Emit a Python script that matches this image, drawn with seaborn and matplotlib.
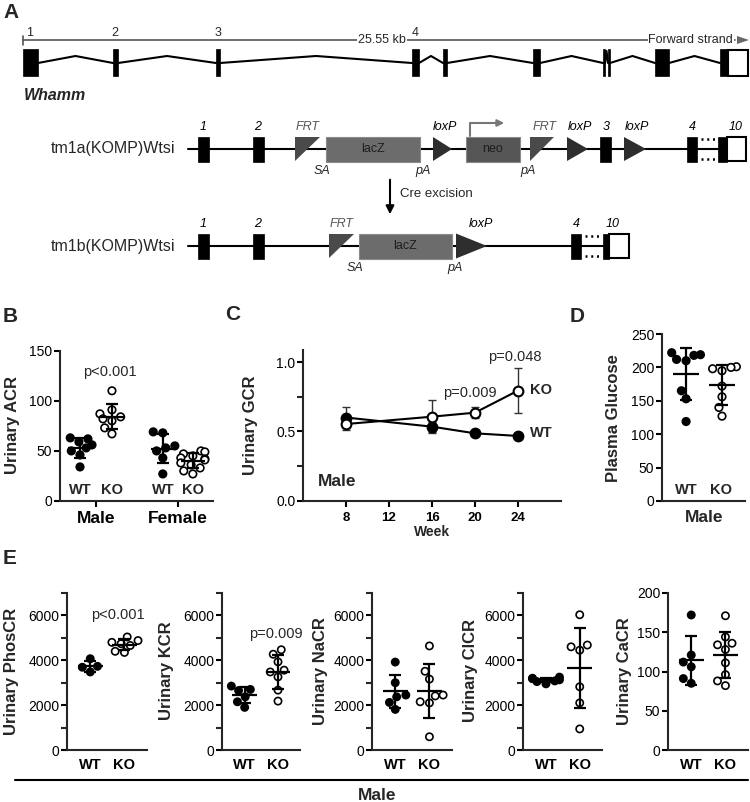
import numpy as np
import pandas as pd
import matplotlib
matplotlib.use("Agg")
import matplotlib.pyplot as plt
import seaborn as sns
from matplotlib.patches import Rectangle, Polygon

# ---------------- data ----------------
# Panel B: urinary ACR
acr_male_wt = [63, 62, 59, 56, 53, 50, 46, 34]
acr_male_ko = [110, 91, 87, 84, 82, 80, 73, 67]
acr_female_wt = [69, 68, 55, 53, 50, 43, 27]
acr_female_ko = [50, 49, 47, 45, 43, 42, 41, 38, 36, 33, 30, 27]
# Panel C: urinary GCR over time
weeks = [8, 16, 20, 24]
gcr_wt_mean = [0.600, 0.534, 0.486, 0.467]
gcr_wt_err = [0.078, 0.035, 0.015, 0.020]
gcr_ko_mean = [0.553, 0.606, 0.635, 0.794]
gcr_ko_err = [0.040, 0.120, 0.040, 0.165]
week_ticks = [8, 12, 16, 20, 24]
# Panel D: plasma glucose
glucose_wt = [222, 219, 218, 212, 210, 165, 153, 119]
glucose_ko = [201, 200, 198, 195, 172, 156, 140, 127]
# Panel E
phos_wt = [4070, 3730, 3690, 3480]
phos_ko = [5040, 4880, 4800, 4740, 4660, 4400, 4350]
k_wt = [2850, 2700, 2650, 2370, 2150, 1900]
k_ko = [4470, 4270, 3930, 3560, 3480, 3260, 2670, 2180]
na_wt = [3920, 3000, 2450, 2370, 2120, 1810]
na_ko = [4640, 3510, 3160, 2450, 2410, 2150, 2100, 590]
cl_wt = [3250, 3200, 3180, 3130, 3080, 3050, 2950]
cl_ko = [6030, 4680, 4600, 4450, 2820, 2100, 940]
ca_wt = [172, 121, 112, 106, 91, 85]
ca_ko = [171, 144, 136, 134, 128, 111, 96, 88, 82]
genotypes = ["WT", "KO"]

# ---------------- setup ----------------
sns.set_theme(style="ticks")
plt.rcParams["font.family"] = ["Liberation Sans", "DejaVu Sans"]
plt.rcParams["axes.linewidth"] = 1.5

W, H = 750, 802
fig = plt.figure(figsize=(7.5, 8.02), dpi=100)
fig.patch.set_facecolor("white")

ov = fig.add_axes([0, 0, 1, 1])
ov.set_xlim(0, W)
ov.set_ylim(H, 0)
ov.axis("off")
ov.patch.set_visible(False)


def px_axes(x0, y0, x1, y1):
    return fig.add_axes([x0 / W, 1 - y1 / H, (x1 - x0) / W, (y1 - y0) / H])


def T(x, y, s, **kw):
    kw.setdefault("ha", "center")
    kw.setdefault("va", "center")
    ov.text(x, y, s, **kw)


# ---------------- Panel A ----------------
T(3, 12, "A", fontsize=15, fontweight="bold", ha="left")
ov.plot([23, 735], [40, 40], color="#555555", lw=1.2)
ov.plot([23, 23], [36, 45], color="#555555", lw=1.2)
ov.add_patch(Polygon([(737, 36), (749, 40), (737, 44)], closed=True, fc="#666666", ec="none"))
for xx, lab in [(30, "1"), (115, "2"), (218, "3"), (415, "4")]:
    T(xx, 33, lab, fontsize=9)
T(382, 40, "25.55 kb", fontsize=9, bbox=dict(fc="white", ec="none", pad=0.5))
T(733, 40, "Forward strand", fontsize=9, ha="right", bbox=dict(fc="white", ec="none", pad=0.5))
gene_exons = [(23, 38), (113, 118), (216, 220), (412, 419), (443, 447), (533, 540),
              (603, 605), (608, 610), (655, 669), (720, 728)]
for i in range(len(gene_exons) - 1):
    a = gene_exons[i][1]
    b = gene_exons[i + 1][0]
    pk = 56 if b - a > 6 else 51
    ov.plot([a, (a + b) / 2, b], [63, pk, 63], color="black", lw=1.5)
for x0, x1 in gene_exons:
    ov.add_patch(Rectangle((x0, 49), x1 - x0, 27, fc="black", ec="black", lw=0.5))
ov.add_patch(Rectangle((728, 49.5), 20, 26, fc="white", ec="black", lw=1.5))
T(24, 95, "Whamm", fontsize=11.5, fontweight="bold", fontstyle="italic", ha="left")


def exon(x0, x1, yc, h=25):
    ov.add_patch(Rectangle((x0, yc - h / 2), x1 - x0, h, fc="black", ec="black", lw=0.5, zorder=3))


def frt(x0, x1, yc, h=24):
    ov.add_patch(Polygon([(x0, yc - h / 2), (x1, yc - h / 2), (x0, yc + h / 2)], closed=True,
                         fc="#4a4a4a", ec="none", zorder=3))


def loxp(x0, x1, yc, h=24):
    ov.add_patch(Polygon([(x0, yc - h / 2), (x1, yc), (x0, yc + h / 2)], closed=True,
                         fc="#2e2e2e", ec="none", zorder=3))


def box(x0, x1, yc, fc, label, h=25):
    ov.add_patch(Rectangle((x0, yc - h / 2), x1 - x0, h, fc=fc, ec="#8a8a8a", lw=0.8, zorder=3))
    T((x0 + x1) / 2, yc, label, fontsize=9, color="#1e1e1e", zorder=4)


def last_exon(x0, x1, x2, yc, h=25):
    ov.add_patch(Rectangle((x0, yc - h / 2), x1 - x0, h, fc="black", ec="black", lw=0.5, zorder=3))
    ov.add_patch(Rectangle((x1, yc - h / 2 + 0.7), x2 - x1, h - 1.4, fc="white", ec="black", lw=1.5, zorder=3))


def dots(x0, x1, yc):
    for yy in (yc - 10, yc + 10):
        ov.plot([x0 + 3, x1 - 2], [yy, yy], color="black", lw=1.8, ls=(0, (0.8, 1.5)))


lab_kw = dict(fontsize=9, fontstyle="italic")
# tm1a
y1 = 149
T(175, y1, "tm1a(KOMP)Wtsi", fontsize=11.5, ha="right")
ov.plot([188, 718], [y1, y1], color="black", lw=1.5, zorder=2)
exon(198, 209, y1)
exon(253, 264, y1)
frt(295, 320, y1)
box(326, 420, y1, "#6c6c6c", "lacZ")
loxp(433, 452, y1)
box(466, 520, y1, "#565656", "neo")
frt(530, 554, y1)
loxp(567, 588, y1)
exon(600, 611, y1)
loxp(624, 646, y1)
exon(687, 697, y1)
dots(698, 718, y1)
last_exon(718, 727, 746, y1)
for xx, lab, col in [(203, "1", "black"), (258, "2", "black"), (308, "FRT", "#555555"),
                     (445, "loxP", "black"), (545, "FRT", "#555555"), (580, "loxP", "black"),
                     (606, "3", "black"), (637, "loxP", "black"), (692, "4", "black"),
                     (736, "10", "black")]:
    T(xx, 127, lab, color=col, **lab_kw)
for xx, lab in [(322, "SA"), (423, "pA"), (528, "pA")]:
    T(xx, 171, lab, **lab_kw)
ov.plot([470, 470, 498], [136, 123, 123], color="#777777", lw=1.5)
ov.annotate("", xy=(507, 123), xytext=(496, 123),
            arrowprops=dict(arrowstyle="-|>", color="#777777", lw=1.5, mutation_scale=10))
ov.annotate("", xy=(390, 217), xytext=(390, 177),
            arrowprops=dict(arrowstyle="-|>", color="black", lw=1.5, mutation_scale=12))
T(400, 194, "Cre excision", fontsize=9.5, ha="left")
# tm1b
y2 = 246
T(175, y2, "tm1b(KOMP)Wtsi", fontsize=11.5, ha="right")
ov.plot([188, 604], [y2, y2], color="black", lw=1.5, zorder=2)
exon(198, 209, y2)
exon(253, 264, y2)
frt(329, 354, y2)
box(359, 452, y2, "#6c6c6c", "lacZ")
loxp(456, 487, y2, h=25)
exon(571, 581, y2)
dots(582, 603, y2)
last_exon(603, 609, 629, y2)
for xx, lab, col in [(203, "1", "black"), (258, "2", "black"), (342, "FRT", "#555555"),
                     (481, "loxP", "black"), (576, "4", "black"), (613, "10", "black")]:
    T(xx, 224, lab, color=col, **lab_kw)
for xx, lab in [(355, "SA"), (455, "pA")]:
    T(xx, 268, lab, **lab_kw)


# ---------------- helpers for scatter panels ----------------
def style(ax, labelsize=10):
    sns.despine(ax=ax)
    for s in ["left", "bottom"]:
        ax.spines[s].set_linewidth(1.5)
    ax.tick_params(width=1.5, length=4, labelsize=labelsize, pad=1.5, colors="black")
    ax.tick_params(which="minor", width=1.5, length=4)
    ax.set_xlabel("")
    ax.set_ylabel("")
    ax.patch.set_visible(False)


def scatter_panel(ax, groups, positions, size=6):
    rows = []
    for (vals, geno), pos in zip(groups, positions):
        for v in vals:
            rows.append((pos, v, geno))
    df = pd.DataFrame(rows, columns=["pos", "val", "geno"])
    sns.swarmplot(data=df, x="pos", y="val", hue="geno",
                  palette={"WT": "black", "KO": "white"}, native_scale=True, orient="x",
                  size=size, edgecolor="black", linewidth=1.2, legend=False, ax=ax,
                  zorder=2, warn_thresh=1.0)
    for (vals, geno), pos in zip(groups, positions):
        m = np.mean(vals)
        s = np.std(vals, ddof=1)
        ax.hlines(m, pos - 0.37, pos + 0.37, color="black", lw=1.6, zorder=4)
        ax.errorbar(pos, m, yerr=s, fmt="none", ecolor="black", elinewidth=1.6,
                    capsize=4, capthick=1.6, zorder=4)


def ylab(x, y, s):
    T(x, y, s, fontsize=12, fontweight="bold", rotation=90)


# ---------------- Panel B ----------------
T(3, 316, "B", fontsize=15, fontweight="bold", ha="left")
axB = px_axes(60, 350.7, 213, 501)
posB = [0, 1, 2.59, 3.53]
scatter_panel(axB, [(acr_male_wt, "WT"), (acr_male_ko, "KO"),
                    (acr_female_wt, "WT"), (acr_female_ko, "KO")], posB, size=5.4)
axB.set_xlim(-0.625, 4.16)
axB.set_ylim(0, 150)
axB.set_yticks([0, 50, 100, 150])
style(axB)
axB.set_xticks([(posB[0] + posB[1]) / 2, (posB[2] + posB[3]) / 2])
axB.set_xticklabels(["Male", "Female"], fontsize=12.5, fontweight="bold")
axB.tick_params(axis="x", pad=3)
for xx, g in zip([80, 112, 163, 193], genotypes * 2):
    T(xx, 490, g, fontsize=10.5, fontweight="bold")
ylab(13, 425, "Urinary ACR")
T(110, 372, "p<0.001", fontsize=10.5)

# ---------------- Panel C ----------------
T(225, 315, "C", fontsize=15, fontweight="bold", ha="left")
axC = px_axes(303, 350, 561, 500.7)
axC.errorbar(weeks, gcr_wt_mean, yerr=gcr_wt_err, fmt="none", ecolor="#333333",
             elinewidth=1.0, capsize=3, capthick=1.0, zorder=1)
axC.errorbar(weeks, gcr_ko_mean, yerr=gcr_ko_err, fmt="none", ecolor="#333333",
             elinewidth=1.0, capsize=3, capthick=1.0, zorder=1)
sns.lineplot(x=weeks, y=gcr_wt_mean, ax=axC, color="black", lw=1.5, marker="o",
             markersize=7, markerfacecolor="black", markeredgecolor="black",
             markeredgewidth=1.5, zorder=3)
sns.lineplot(x=weeks, y=gcr_ko_mean, ax=axC, color="black", lw=1.5, marker="o",
             markersize=7, markerfacecolor="white", markeredgecolor="black",
             markeredgewidth=1.5, zorder=3)
axC.set_xlim(4, 28)
axC.set_ylim(0, 1.087)
style(axC)
axC.set_yticks([0, 0.5, 1.0])
axC.set_yticklabels(["0.0", "0.5", "1.0"])
axC.set_yticks([0.25, 0.75], minor=True)
axC.set_xticks(week_ticks)
axC.set_xticklabels([str(w) for w in week_ticks], fontsize=9.5, fontweight="bold")
axC.tick_params(axis="x", pad=4)
axC.set_xlabel("Week", fontsize=10, fontweight="bold", labelpad=1)
ylab(250, 425, "Urinary GCR")
T(470, 393, "p=0.009", fontsize=10.5)
T(515, 357, "p=0.048", fontsize=10.5)
T(530, 390, "KO", fontsize=10.5, fontweight="bold", ha="left")
T(530, 433, "WT", fontsize=10.5, fontweight="bold", ha="left")
T(318, 482, "Male", fontsize=12.5, fontweight="bold", ha="left")

# ---------------- Panel D ----------------
T(570, 317, "D", fontsize=15, fontweight="bold", ha="left")
axD = px_axes(662, 334, 745, 501)
scatter_panel(axD, [(glucose_wt, "WT"), (glucose_ko, "KO")], [0, 1], size=5.4)
axD.set_xlim(-0.67, 1.64)
axD.set_ylim(0, 250)
axD.set_yticks([0, 50, 100, 150, 200, 250])
style(axD)
axD.set_xticks([])
for xx, g in zip([686, 721], genotypes):
    T(xx, 490, g, fontsize=10.5, fontweight="bold")
T(704, 518, "Male", fontsize=12.5, fontweight="bold")
ylab(613, 418, "Plasma Glucose")

# ---------------- Panel E ----------------
T(3, 558, "E", fontsize=15, fontweight="bold", ha="left")
e_specs = [
    (67, 147, 12, "Urinary PhosCR", phos_wt, phos_ko, 7000),
    (222, 300, 167, "Urinary KCR", k_wt, k_ko, 7000),
    (372, 452, 320, "Urinary NaCR", na_wt, na_ko, 7000),
    (523, 602, 470, "Urinary ClCR", cl_wt, cl_ko, 7000),
    (668, 748, 625, "Urinary CaCR", ca_wt, ca_ko, 200),
]
for x0, x1, lx, lab, wt, ko, top in e_specs:
    ax = px_axes(x0, 593, x1, 750)
    scatter_panel(ax, [(wt, "WT"), (ko, "KO")], [0, 1], size=5.2)
    ax.set_xlim(-0.68, 1.66)
    ax.set_ylim(0, top)
    style(ax)
    if top == 7000:
        ax.set_yticks([0, 2000, 4000, 6000])
        ax.set_yticks([1000, 3000, 5000, 7000], minor=True)
    else:
        ax.set_yticks([0, 50, 100, 150, 200])
    ax.set_xticks([0, 1])
    ax.set_xticklabels(genotypes, fontsize=10.5, fontweight="bold")
    ax.tick_params(axis="x", length=0, pad=6)
    ylab(lx, 671, lab)

T(118, 615, "p<0.001", fontsize=10.5)
T(276, 634, "p=0.009", fontsize=10.5)
ov.plot([15, 748], [780, 780], color="black", lw=1.5)
T(377, 795, "Male", fontsize=12.5, fontweight="bold")

fig.savefig("out.png", dpi=100, facecolor="white")
